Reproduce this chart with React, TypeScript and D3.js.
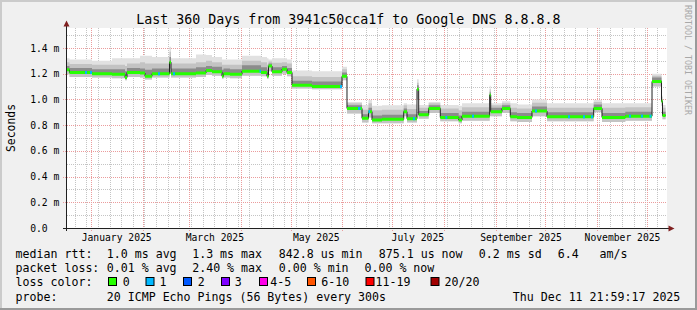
import React from 'react';
import * as d3 from 'd3';

// ---------- data ----------
const startTime = new Date(2024, 11, 16, 21, 59, 17);
const endTime = new Date(2025, 11, 11, 21, 59, 17);
const yMaxMs = 1.5556;

// step segments: start day (offset from startTime)
const segDay = [0, 1.74, 15.27, 27.29, 35.1, 36.3, 44.11, 47.12, 51.32, 61.84, 62.74, 77.77, 83.78, 87.39, 93.4, 94.3, 98.2, 105.42, 116.83, 120.44, 121.34, 123.45, 129.46, 132.46, 135.47, 147.49, 165.52, 168.52, 177.54, 181.44, 183.55, 189.56, 202.6, 204.58, 210.59, 211.61, 217.62, 224.59, 235.65, 237.63, 254.28, 254.88, 261.67, 266.66, 270.69, 279.7, 288.72, 316.79, 321.78, 335.78, 351.84, 357.53, 358.14];
const medianMs = [1.23, 1.21, 1.2, 1.195, 1.17, 1.21, 1.205, 1.18, 1.2, 1.29, 1.2, 1.205, 1.225, 1.215, 1.18, 1.2, 1.195, 1.22, 1.21, 1.18, 1.26, 1.215, 1.235, 1.21, 1.11, 1.1, 1.18, 0.93, 0.853, 0.905, 0.84, 0.845, 0.905, 0.85, 1.08, 0.88, 0.93, 0.86, 0.84, 0.87, 1.035, 0.905, 0.93, 0.865, 0.86, 0.91, 0.865, 0.93, 0.86, 0.87, 1.14, 0.985, 0.875];
const smokeMinMs = [1.195, 1.175, 1.17, 1.165, 1.15, 1.175, 1.17, 1.155, 1.17, 1.24, 1.17, 1.175, 1.19, 1.185, 1.16, 1.17, 1.165, 1.185, 1.18, 1.16, 1.22, 1.185, 1.2, 1.18, 1.085, 1.08, 1.15, 0.89, 0.82, 0.86, 0.815, 0.815, 0.87, 0.82, 1.0, 0.85, 0.895, 0.83, 0.815, 0.835, 0.96, 0.87, 0.895, 0.83, 0.825, 0.87, 0.83, 0.9, 0.825, 0.835, 1.1, 0.95, 0.845];
const smokeCoreMs = [1.26, 1.245, 1.235, 1.235, 1.22, 1.245, 1.24, 1.23, 1.24, 1.33, 1.24, 1.25, 1.26, 1.255, 1.23, 1.24, 1.235, 1.265, 1.25, 1.23, 1.28, 1.25, 1.26, 1.245, 1.145, 1.14, 1.21, 0.955, 0.885, 0.935, 0.875, 0.88, 0.93, 0.885, 1.11, 0.91, 0.955, 0.895, 0.875, 0.905, 1.06, 0.935, 0.955, 0.9, 0.895, 0.945, 0.9, 0.96, 0.895, 0.905, 1.17, 1.0, 0.905];
const smokeMidMs = [1.29, 1.275, 1.27, 1.27, 1.26, 1.28, 1.29, 1.28, 1.28, 1.37, 1.28, 1.29, 1.3, 1.29, 1.27, 1.27, 1.27, 1.3, 1.29, 1.27, 1.295, 1.285, 1.29, 1.28, 1.18, 1.175, 1.235, 0.97, 0.92, 0.97, 0.915, 0.92, 0.955, 0.925, 1.13, 0.935, 0.97, 0.93, 0.915, 0.94, 1.08, 0.955, 0.97, 0.935, 0.93, 0.975, 0.935, 0.98, 0.935, 0.94, 1.185, 1.02, 0.935];
const smokeMaxMs = [1.32, 1.31, 1.3, 1.32, 1.32, 1.32, 1.34, 1.34, 1.33, 1.41, 1.32, 1.35, 1.345, 1.33, 1.31, 1.31, 1.31, 1.34, 1.33, 1.32, 1.31, 1.32, 1.32, 1.31, 1.225, 1.22, 1.255, 0.98, 0.957, 0.996, 0.95, 0.955, 0.97, 0.96, 1.157, 0.957, 0.98, 0.957, 0.95, 0.97, 1.107, 0.97, 0.985, 0.97, 0.96, 1.0, 0.97, 0.996, 0.97, 0.97, 1.2, 1.03, 0.957];

// spots where 1 of 20 pings was lost
const lossStartDay = [11.06, 14.06, 54.94, 63.95, 115.93, 164.32, 175.13, 181.44, 208.18, 227.6, 243.64, 281.5, 301.34, 310.36, 315.17, 337.98, 345.2, 350.32];
const lossEndDay = [12.26, 15.27, 56.14, 65.15, 116.83, 165.52, 176.63, 182.34, 209.38, 228.8, 244.85, 282.71, 302.54, 311.56, 316.37, 339.18, 346.4, 351.52];
const lossPings = [1, 1, 1, 1, 1, 1, 1, 1, 1, 1, 1, 1, 1, 1, 1, 1, 1, 1];

const yMajorTicks = [0, 0.2, 0.4, 0.6, 0.8, 1.0, 1.2, 1.4];
const yTickLabels = ['0.0', '0.2 m', '0.4 m', '0.6 m', '0.8 m', '1.0 m', '1.2 m', '1.4 m'];
const yMinorTicks = [0.1, 0.3, 0.5, 0.7, 0.9, 1.1, 1.3, 1.5];
const xLabelMonths = [new Date(2025, 0, 1), new Date(2025, 2, 1), new Date(2025, 4, 1), new Date(2025, 6, 1), new Date(2025, 8, 1), new Date(2025, 10, 1)];
const xTickLabels = ['January 2025', 'March 2025', 'May 2025', 'July 2025', 'September 2025', 'November 2025'];

const lossLegendLabels = ['0', '1', '2', '3', '4-5', '6-10', '11-19', '20/20'];
const lossLegendColors = ['#26ff00', '#00b8ff', '#0059ff', '#7e00ff', '#ff00ea', '#ff5500', '#ff0000', '#a10000'];

const titleText = 'Last 360 Days from 3941c50cca1f to Google DNS 8.8.8.8';
const rttItems = ['median rtt:', '1.0 ms avg', '1.3 ms max', '842.8 us min', '875.1 us now', '0.2 ms sd', '6.4', 'am/s'];
const lossItems = ['packet loss:', '0.01 % avg', '2.40 % max', '0.00 % min', '0.00 % now'];
const probeItems = ['probe:', '20 ICMP Echo Pings (56 Bytes) every 300s', 'Thu Dec 11 21:59:17 2025'];

// ---------- layout ----------
const W = 697;
const H = 310;
const FONT = '"DejaVu Sans Mono", monospace';
const rttX = [15.6, 106.8, 192.2, 278.8, 378.8, 478.8, 557.8, 599.5];
const lossX = [15.6, 106.8, 192.2, 278.8, 364.5];
const boxX = [108, 145.5, 183, 221, 259, 307, 365.5, 430.5];
const boxLabelX = [122.8, 159.5, 197.8, 234.8, 270.2, 321.2, 375.5, 444.5];
const probeX = [15.6, 106.8, 512.8];

const MINOR = '#c4c4c4';
const MAJOR = '#eb9c9c';

// dotted grid lines as filled 1x1 pixel squares
function dotsV(col: number, y0: number, y1: number) {
  let s = '';
  for (let yy = y0; yy < y1; yy += 2) s += `M${col},${yy}h1v1h-1z`;
  return s;
}
function dotsH(row: number, x0: number, x1: number) {
  let s = '';
  for (let xx = x0; xx < x1; xx += 2) s += `M${xx},${row}h1v1h-1z`;
  return s;
}

export default function App() {
  const x = d3.scaleTime().domain([startTime, endTime]).range([66.6, 665.6]);
  const y = d3.scaleLinear().domain([0, yMaxMs]).range([228, 28]);
  const dayDate = (d: number) => new Date(startTime.getTime() + d * 864e5);

  type P = { t: Date; med: number; mn: number; core: number; mid: number; mx: number };
  const pts: P[] = segDay.map((d, i) => ({
    t: dayDate(d), med: medianMs[i], mn: smokeMinMs[i], core: smokeCoreMs[i], mid: smokeMidMs[i], mx: smokeMaxMs[i],
  }));
  pts.push({ ...pts[pts.length - 1], t: endTime });

  const band = (lo: (p: P) => number, hi: (p: P) => number) =>
    d3.area<P>().curve(d3.curveStepAfter).x(p => x(p.t)).y0(p => y(lo(p))).y1(p => y(hi(p)))(pts) || '';

  const outer = band(p => p.mn, p => p.mx);
  const mid = band(p => p.mn, p => p.mid);
  const core = band(p => p.med, p => p.core);
  const medLine = d3.line<P>().curve(d3.curveStepAfter).x(p => x(p.t)).y(p => y(p.med))(pts) || '';
  const medBand = d3.area<P>().curve(d3.curveStepAfter).x(p => x(p.t)).y0(p => y(p.med) + 1.5).y1(p => y(p.med) - 1.5)(pts) || '';

  const medAt = (d: number) => {
    const i = Math.max(0, d3.bisectRight(segDay, d) - 1);
    return medianMs[i];
  };

  const months = d3.timeMonth.range(d3.timeMonth.ceil(startTime), endTime);
  const monthKeys = new Set(months.map(m => +m));
  const sundays = d3.timeSunday.range(startTime, endTime).filter(s => !monthKeys.has(+s));

  const col = (t: Date) => Math.floor(x(t));
  const row = (v: number) => Math.round(y(v));

  const minorPath =
    yMinorTicks.map(v => dotsH(row(v), 67, 667)).join('') +
    sundays.map(s => dotsV(col(s), 28, 228)).join('');
  const majorPath =
    yMajorTicks.filter(v => v > 0).map(v => dotsH(row(v), 63, 667)).join('') +
    months.map(m => dotsV(col(m), 28, 232)).join('');

  const legendY = [257.8, 272, 286.2, 300.5];

  return (
    <svg width={W} height={H} style={{ position: 'absolute', left: 0, top: 0 }} fontFamily={FONT}>
      <rect x={0} y={0} width={W} height={H} fill="#f0f0f0" />
      {/* 3d border */}
      <rect x={0} y={0} width={W} height={2} fill="#cbcbcb" />
      <rect x={0} y={0} width={2} height={H} fill="#cbcbcb" />
      <rect x={0} y={H - 2} width={W} height={2} fill="#9a9a9a" />
      <rect x={W - 2} y={0} width={2} height={H} fill="#9a9a9a" />

      {/* canvas */}
      <rect x={67} y={28} width={600} height={200} fill="#ffffff" />

      {/* grid */}
      <path d={minorPath} fill={MINOR} shapeRendering="crispEdges" />
      <path d={majorPath} fill={MAJOR} shapeRendering="crispEdges" />

      {/* smoke */}
      <path d={outer} fill="#e1e1e1" />
      <path d={mid} fill="#c3c3c3" />
      <path d={core} fill="#8c8c8c" />
      {/* median */}
      <path d={medLine} fill="none" stroke="#202020" strokeWidth={1} />
      <path d={medBand} fill={lossLegendColors[0]} />
      {lossStartDay.map((d, i) => {
        const m = medAt(d);
        const x0 = x(dayDate(d));
        const x1 = x(dayDate(lossEndDay[i]));
        return <rect key={'l' + i} x={x0} y={y(m) - 1.5} width={x1 - x0} height={3} fill={lossLegendColors[lossPings[i]]} />;
      })}

      {/* axes */}
      <g shapeRendering="crispEdges">
        <line x1={63} x2={670} y1={228.5} y2={228.5} stroke="#202020" />
        <line x1={66.5} x2={66.5} y1={231} y2={25} stroke="#202020" />
      </g>
      <path d="M66.5,20.5 L63.5,26.5 L69.5,26.5 Z" fill="#802020" />
      <path d="M674.5,228.5 L668.5,225.5 L668.5,231.5 Z" fill="#802020" />

      {/* y labels */}
      {yMajorTicks.map((v, i) => (
        <text key={'yl' + i} x={30.2} y={y(v) + 3.6} fontSize={9.7} fill="#000">{yTickLabels[i]}</text>
      ))}
      {/* x labels */}
      {xLabelMonths.map((m, i) => (
        <text key={'xl' + i} x={x(d3.timeDay.offset(m, 15))} y={241} fontSize={9.7} textAnchor="middle" fill="#000">{xTickLabels[i]}</text>
      ))}

      {/* title */}
      <text x={348.3} y={24} fontSize={13.3} textAnchor="middle" fill="#000">{titleText}</text>
      {/* y axis title */}
      <text transform="translate(11,128) rotate(-90)" fontSize={11.4} textAnchor="middle" dominantBaseline="central" fill="#000">Seconds</text>
      {/* watermark */}
      <text transform="translate(687.7,60) rotate(90)" fontSize={8.3} textAnchor="middle" dominantBaseline="central" fill="#a8a8a8">RRDTOOL / TOBI OETIKER</text>

      {/* legend */}
      <g fontSize={11.6} fill="#000">
        {rttItems.map((s, i) => (
          <text key={'r' + i} x={rttX[i]} y={legendY[0]}>{s}</text>
        ))}
        {lossItems.map((s, i) => (
          <text key={'p' + i} x={lossX[i]} y={legendY[1]}>{s}</text>
        ))}
        <text x={15.6} y={legendY[2]}>loss color:</text>
        {lossLegendLabels.map((s, i) => (
          <g key={'b' + i}>
            <rect x={boxX[i] + 0.5} y={277.5} width={8} height={8} fill={lossLegendColors[i]} stroke="#000" strokeWidth={1} />
            <text x={boxLabelX[i]} y={legendY[2]}>{s}</text>
          </g>
        ))}
        {probeItems.map((s, i) => (
          <text key={'q' + i} x={probeX[i]} y={legendY[3]}>{s}</text>
        ))}
      </g>
    </svg>
  );
}
